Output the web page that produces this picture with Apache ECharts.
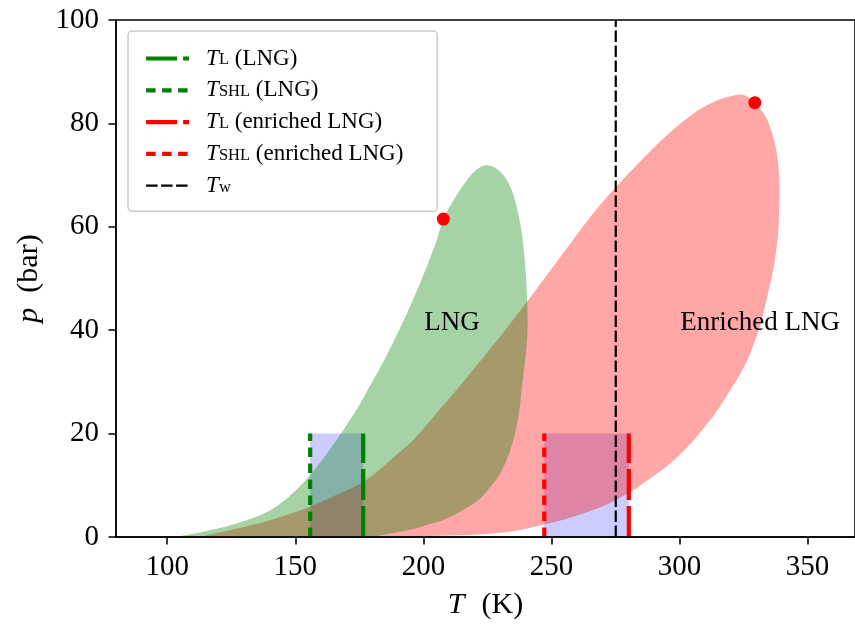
<!DOCTYPE html>
<html>
<head>
<meta charset="utf-8">
<script src="https://cdn.jsdelivr.net/npm/echarts@6/dist/echarts.min.js"></script>
<style>
  html, body { margin: 0; padding: 0; background: #ffffff; }
  #chart { width: 855px; height: 625px; }
</style>
</head>
<body>
<div id="chart"></div>
<script>
const FONT = '"Liberation Serif", "DejaVu Serif", serif';

// Phase envelope of LNG: [T (K), p (bar)], bubble side up to the top, then dew side back down
const lngEnvelope = [
  [105, 0], [114, 1], [127, 2.6], [139.9, 5.1], [147.7, 7.9], [154.8, 11.4], [162, 15.9],
  [167.8, 20], [173.7, 24.5], [178.9, 29], [186.7, 36.1], [197, 47.1], [204.8, 56.8],
  [207.8, 61.5], [212.6, 65.8], [219.1, 70.3], [224.3, 71.9], [229.5, 70.9], [234, 67.7],
  [237.3, 61.9], [239.2, 55.5], [240.5, 45.8], [240.5, 38.5], [238.6, 29.5], [237.3, 24],
  [235.5, 19.5], [233, 15.5], [230, 12.3], [226, 9.6], [221.7, 7.2], [215, 5.1],
  [208.7, 3.5], [202, 2.4], [195.7, 1.5], [185, 0.5], [177.6, 0], [150, 0], [125, 0]
];

// Phase envelope of enriched LNG
const enrichedEnvelope = [
  [114, 0], [127, 1.6], [139.9, 3.2], [155.5, 5.8], [165.9, 8.1], [177.6, 11], [186.5, 14.6],
  [195.7, 18.6], [206.1, 24.5], [218, 31.5], [229.5, 38.5], [240, 45.2], [247.5, 50.2],
  [255.5, 55.5], [265, 61.8], [275, 67.6], [294.4, 77.4], [307.4, 82.6], [314, 84.3],
  [320.3, 85.3], [325, 85.5], [329.4, 84], [334.6, 80.3], [338.5, 72.3], [338.7, 60.5],
  [337, 53], [334.5, 47], [331.5, 41], [328, 36], [324, 31.8], [319, 27.8], [313.9, 23.9],
  [307, 19.6], [300.9, 16.3], [294, 13.3], [287, 10.8], [281.4, 8.9], [272, 6.4], [262, 4.5],
  [252, 3], [242.5, 1.9], [235, 1.1], [225, 0.6], [210, 0.3], [195.7, 0.1], [170, 0], [140, 0]
];

// Critical points of the two mixtures
const criticalPoints = [[207.8, 61.5], [329.4, 84.0]];

// Superheat-limit and Leidenfrost temperatures (K), and the pressure band they span
const tShlLng = 155.8;
const tLLng = 176.5;
const tShlEnriched = 247.2;
const tLEnriched = 280.2;
const bandTop = 20;
const tWater = 275.1;

const xTicks = [100, 150, 200, 250, 300, 350];
const yTicks = [0, 20, 40, 60, 80, 100];

const regionLabels = ['LNG', 'Enriched LNG'];
const regionLabelPos = [[200.3, 41.4], [300.3, 41.4]];

const legendText = {
  'T_L (LNG)': '{g| }{i|T}{s|L} (LNG)',
  'T_SHL (LNG)': '{g| }{i|T}{s|SHL} (LNG)',
  'T_L (enriched LNG)': '{g| }{i|T}{s|L} (enriched LNG)',
  'T_SHL (enriched LNG)': '{g| }{i|T}{s|SHL} (enriched LNG)',
  'T_w': '{g| }{i|T}{s|w}'
};

const chart = echarts.init(document.getElementById('chart'), null, { renderer: 'canvas' });

function envelopeSeries(name, pts, color, z) {
  return {
    type: 'custom',
    name: name,
    coordinateSystem: 'cartesian2d',
    silent: true,
    z: z,
    data: pts,
    encode: { x: 0, y: 1 },
    renderItem: function (params, api) {
      if (params.dataIndex !== 0) return null;
      const poly = pts.map(function (p) { return api.coord(p); });
      return {
        type: 'polygon',
        shape: { points: poly, smooth: 0.35 },
        style: { fill: color }
      };
    }
  };
}

function bandSeries(name, x0, x1) {
  return {
    type: 'custom',
    name: name,
    coordinateSystem: 'cartesian2d',
    silent: true,
    z: 1,
    data: [[x0, 0, x1, bandTop]],
    encode: { x: [0, 2], y: [1, 3] },
    renderItem: function (params, api) {
      const a = api.coord([api.value(0), api.value(3)]);
      const b = api.coord([api.value(2), api.value(1)]);
      return {
        type: 'rect',
        shape: { x: a[0], y: a[1], width: b[0] - a[0], height: b[1] - a[1] },
        style: { fill: 'rgba(0,0,255,0.2)' }
      };
    }
  };
}

function vLine(name, t, top, color, width, dash) {
  return {
    type: 'line',
    name: name,
    z: 5,
    symbol: 'none',
    silent: true,
    data: [[t, 0], [t, top]],
    lineStyle: { color: color, width: width, type: dash, cap: 'butt' },
    itemStyle: { color: color }
  };
}

const dashDot = [31, 6];
const dashed = [9.5, 6.5];

const axisFont = { fontFamily: FONT, fontSize: 29, color: '#000' };
const nameFont = { fontFamily: FONT, fontSize: 30, color: '#000' };

const option = {
  animation: false,
  backgroundColor: '#ffffff',
  grid: {
    left: 116, right: -2, top: 20, bottom: 88,
    show: true, borderColor: '#000', borderWidth: 1.5, backgroundColor: 'transparent'
  },
  xAxis: {
    type: 'value',
    min: 80, max: 368.5,
    z: 10,
    name: '{i|T}{g| }(K)',
    nameLocation: 'middle',
    nameGap: 53,
    nameTextStyle: Object.assign({}, nameFont, {
      rich: {
        i: Object.assign({}, nameFont, { fontStyle: 'italic' }),
        g: { width: 17 }
      }
    }),
    axisLine: { show: true, lineStyle: { color: '#000', width: 1.5 } },
    axisTick: { show: true, length: 7.5, lineStyle: { color: '#000', width: 1.5 }, customValues: xTicks },
    axisLabel: Object.assign({ margin: 16, customValues: xTicks }, axisFont),
    splitLine: { show: false }
  },
  yAxis: {
    type: 'value',
    min: 0, max: 100,
    z: 10,
    name: '{i|p}{g| }(bar)',
    nameLocation: 'middle',
    nameGap: 68,
    nameTextStyle: Object.assign({}, nameFont, {
      rich: {
        i: Object.assign({}, nameFont, { fontStyle: 'italic' }),
        g: { width: 15 }
      }
    }),
    axisLine: { show: true, lineStyle: { color: '#000', width: 1.5 } },
    axisTick: { show: true, length: 7.5, lineStyle: { color: '#000', width: 1.5 }, customValues: yTicks },
    axisLabel: Object.assign({ margin: 17, customValues: yTicks }, axisFont),
    splitLine: { show: false }
  },
  legend: {
    data: Object.keys(legendText),
    orient: 'vertical',
    left: 128, top: 31,
    padding: [16, 34, 14, 16],
    itemGap: 8.8,
    itemWidth: 43,
    itemHeight: 14,
    selectedMode: false,
    backgroundColor: 'rgba(255,255,255,0.8)',
    borderColor: '#cccccc',
    borderWidth: 1.5,
    borderRadius: 4,
    itemStyle: { opacity: 0 },
    lineStyle: { width: 'inherit' },
    formatter: function (name) { return legendText[name]; },
    textStyle: {
      fontFamily: FONT, fontSize: 23, color: '#000', lineHeight: 20,
      rich: {
        g: { width: 12, fontSize: 23, lineHeight: 20 },
        i: { fontFamily: FONT, fontSize: 23, fontStyle: 'italic', lineHeight: 20, color: '#000' },
        s: { fontFamily: FONT, fontSize: 16.5, lineHeight: 8, verticalAlign: 'bottom', color: '#000' }
      }
    }
  },
  series: [
    bandSeries('LNG band', tShlLng, tLLng),
    bandSeries('Enriched band', tShlEnriched, tLEnriched),
    envelopeSeries('Enriched LNG envelope', enrichedEnvelope, 'rgba(255,0,0,0.35)', 2),
    envelopeSeries('LNG envelope', lngEnvelope, 'rgba(0,128,0,0.35)', 3),
    vLine('T_L (LNG)', tLLng, bandTop, '#008000', 4.2, dashDot),
    vLine('T_SHL (LNG)', tShlLng, bandTop, '#008000', 4.2, dashed),
    vLine('T_L (enriched LNG)', tLEnriched, bandTop, '#ff0000', 4.2, dashDot),
    vLine('T_SHL (enriched LNG)', tShlEnriched, bandTop, '#ff0000', 4.2, dashed),
    vLine('T_w', tWater, 100, '#000000', 2.2, [11.5, 3.5]),
    {
      type: 'scatter',
      name: 'Critical points',
      z: 6,
      silent: true,
      symbol: 'circle',
      symbolSize: 13,
      data: criticalPoints,
      itemStyle: { color: '#ff0000', opacity: 1 }
    },
    {
      type: 'custom',
      name: 'Region labels',
      coordinateSystem: 'cartesian2d',
      silent: true,
      z: 7,
      data: regionLabelPos.map(function (p, i) { return [p[0], p[1], i]; }),
      encode: { x: 0, y: 1 },
      renderItem: function (params, api) {
        const c = api.coord([api.value(0), api.value(1)]);
        return {
          type: 'text',
          x: c[0], y: c[1],
          style: {
            text: regionLabels[api.value(2)],
            fontFamily: FONT, fontSize: 27, fill: '#000',
            textAlign: 'left', textVerticalAlign: 'middle'
          }
        };
      }
    }
  ]
};

chart.setOption(option);
</script>
</body>
</html>
